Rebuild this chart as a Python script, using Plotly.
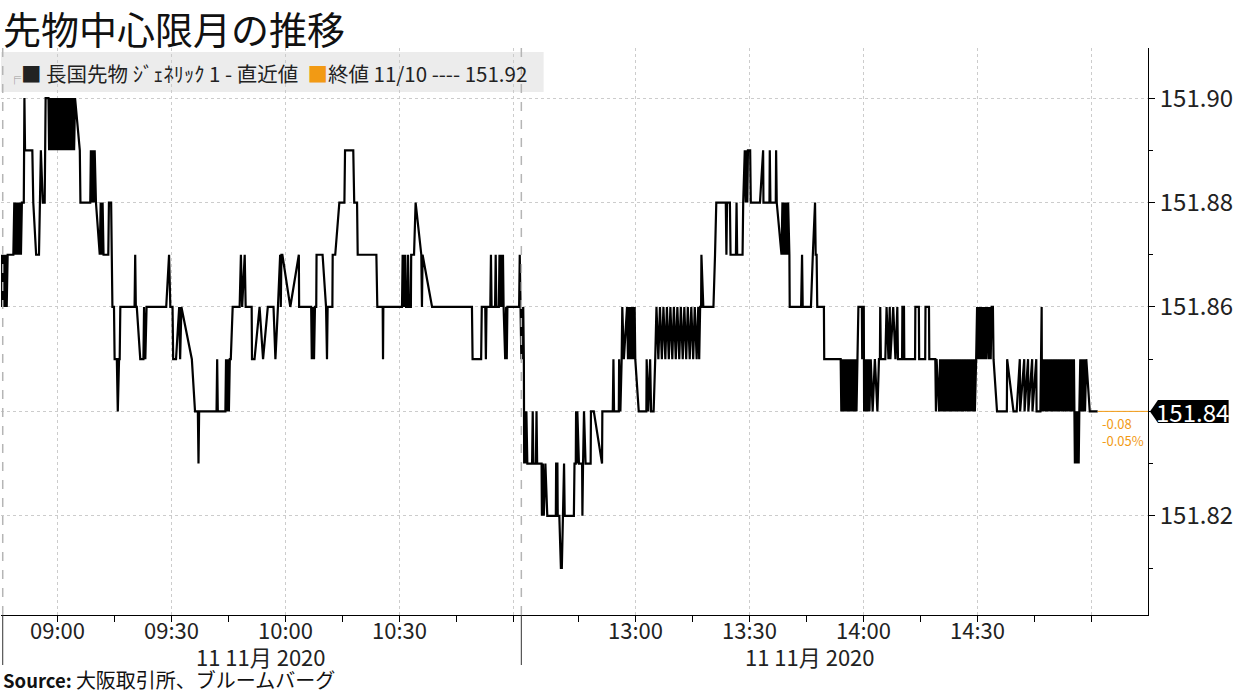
import plotly.graph_objects as go

DAY = "2020-11-11"

# (time, price) ticks - morning session
morning = [
    ("08:45:00", 151.86), ("08:45:15", 151.87), ("08:45:30", 151.86), ("08:45:45", 151.87),
    ("08:46:00", 151.86), ("08:46:15", 151.87), ("08:46:30", 151.86), ("08:46:45", 151.87),
    ("08:48:15", 151.87), ("08:48:30", 151.88), ("08:48:45", 151.87), ("08:49:00", 151.88),
    ("08:49:15", 151.87), ("08:49:30", 151.88), ("08:49:45", 151.87), ("08:50:00", 151.88),
    ("08:50:15", 151.87), ("08:50:30", 151.88), ("08:51:00", 151.88), ("08:51:10", 151.90),
    ("08:51:20", 151.89), ("08:53:15", 151.89), ("08:53:30", 151.88), ("08:54:15", 151.87),
    ("08:55:00", 151.87), ("08:55:15", 151.88), ("08:55:30", 151.89), ("08:56:00", 151.88),
    ("08:56:30", 151.88), ("08:56:45", 151.90), ("08:57:30", 151.90), ("08:57:40", 151.89),
    ("08:58:00", 151.90), ("08:58:15", 151.89), ("08:58:30", 151.90), ("08:58:45", 151.89),
    ("08:59:00", 151.90), ("08:59:15", 151.89), ("08:59:30", 151.90), ("08:59:45", 151.89),
    ("09:00:00", 151.90), ("09:00:15", 151.89), ("09:00:30", 151.90), ("09:00:45", 151.89),
    ("09:01:00", 151.90), ("09:01:15", 151.89), ("09:01:30", 151.90), ("09:01:45", 151.89),
    ("09:02:00", 151.90), ("09:02:15", 151.89), ("09:02:30", 151.90), ("09:02:45", 151.89),
    ("09:03:00", 151.90), ("09:03:15", 151.89), ("09:03:30", 151.90), ("09:03:45", 151.89),
    ("09:04:00", 151.90), ("09:04:15", 151.89), ("09:04:30", 151.90), ("09:05:45", 151.89),
    ("09:05:55", 151.88), ("09:08:30", 151.88), ("09:08:40", 151.89), ("09:08:55", 151.88),
    ("09:09:10", 151.89), ("09:09:25", 151.88), ("09:09:40", 151.89), ("09:10:00", 151.88),
    ("09:11:00", 151.87), ("09:11:15", 151.88), ("09:11:30", 151.87), ("09:11:45", 151.88),
    ("09:12:00", 151.87), ("09:13:15", 151.87), ("09:13:25", 151.88), ("09:14:00", 151.88),
    ("09:14:10", 151.87), ("09:14:20", 151.86), ("09:14:45", 151.86), ("09:14:55", 151.85),
    ("09:15:30", 151.85), ("09:15:45", 151.84), ("09:16:05", 151.85), ("09:16:15", 151.85),
    ("09:16:25", 151.86), ("09:20:10", 151.86), ("09:20:20", 151.87), ("09:20:30", 151.86),
    ("09:20:45", 151.86), ("09:21:40", 151.85), ("09:22:30", 151.85), ("09:22:40", 151.86),
    ("09:23:00", 151.85), ("09:23:20", 151.86), ("09:28:30", 151.86), ("09:29:15", 151.87),
    ("09:29:35", 151.86), ("09:30:10", 151.86), ("09:30:20", 151.85), ("09:31:05", 151.85),
    ("09:31:55", 151.86), ("09:32:10", 151.85), ("09:32:30", 151.86), ("09:35:15", 151.85),
    ("09:36:05", 151.84), ("09:36:50", 151.84), ("09:37:00", 151.83), ("09:37:10", 151.84),
    ("09:41:45", 151.84), ("09:41:55", 151.85), ("09:42:05", 151.84), ("09:44:05", 151.84),
    ("09:44:15", 151.85), ("09:44:30", 151.84), ("09:44:45", 151.85), ("09:45:00", 151.84),
    ("09:45:15", 151.85), ("09:45:30", 151.85), ("09:46:00", 151.86), ("09:47:50", 151.86),
    ("09:48:10", 151.87), ("09:48:30", 151.86), ("09:49:10", 151.87), ("09:49:25", 151.86),
    ("09:51:00", 151.86), ("09:51:05", 151.85), ("09:51:45", 151.85), ("09:53:05", 151.86),
    ("09:54:00", 151.85), ("09:55:15", 151.86), ("09:56:45", 151.86), ("09:57:15", 151.85),
    ("09:57:55", 151.86), ("09:58:30", 151.87), ("09:58:40", 151.86), ("09:58:50", 151.87),
    ("09:59:05", 151.87), ("10:01:10", 151.86), ("10:03:25", 151.87), ("10:03:30", 151.86),
    ("10:06:40", 151.86), ("10:06:50", 151.85), ("10:07:05", 151.86), ("10:07:25", 151.85),
    ("10:07:40", 151.86), ("10:08:00", 151.86), ("10:08:05", 151.87), ("10:09:40", 151.87),
    ("10:10:35", 151.86), ("10:10:50", 151.85), ("10:11:00", 151.86), ("10:12:15", 151.86),
    ("10:12:20", 151.87), ("10:13:00", 151.87), ("10:14:05", 151.88), ("10:15:25", 151.88),
    ("10:15:35", 151.89), ("10:17:45", 151.89), ("10:18:00", 151.88), ("10:18:45", 151.88),
    ("10:18:55", 151.87), ("10:23:50", 151.87), ("10:24:05", 151.86), ("10:25:30", 151.86),
    ("10:25:35", 151.85), ("10:25:40", 151.86), ("10:30:35", 151.86), ("10:30:45", 151.87),
    ("10:30:55", 151.86), ("10:31:05", 151.87), ("10:31:15", 151.86), ("10:31:25", 151.87),
    ("10:31:40", 151.86), ("10:32:05", 151.86), ("10:32:10", 151.87), ("10:32:25", 151.86),
    ("10:32:55", 151.86), ("10:33:00", 151.87), ("10:33:45", 151.87), ("10:34:10", 151.88),
    ("10:35:40", 151.87), ("10:35:50", 151.86), ("10:36:00", 151.87), ("10:38:30", 151.86),
    ("10:49:00", 151.86), ("10:49:10", 151.85), ("10:51:25", 151.85), ("10:51:35", 151.86),
    ("10:52:30", 151.86), ("10:52:40", 151.85), ("10:52:50", 151.86), ("10:53:50", 151.86),
    ("10:54:00", 151.87), ("10:54:10", 151.86), ("10:55:05", 151.86), ("10:55:15", 151.87),
    ("10:55:25", 151.86), ("10:56:05", 151.86), ("10:56:15", 151.87), ("10:56:25", 151.86),
    ("10:56:45", 151.87), ("10:56:55", 151.86), ("10:57:10", 151.87), ("10:57:20", 151.86),
    ("10:57:45", 151.85), ("10:58:00", 151.86), ("10:58:10", 151.85), ("10:58:20", 151.86),
    ("11:01:25", 151.86), ("11:01:35", 151.87),
]

# afternoon session
afternoon = [
    ("12:30:00", 151.85), ("12:30:10", 151.86), ("12:30:20", 151.85), ("12:30:30", 151.86),
    ("12:30:40", 151.85), ("12:30:45", 151.83), ("12:31:00", 151.84), ("12:31:10", 151.83),
    ("12:31:20", 151.84), ("12:31:35", 151.83), ("12:32:50", 151.83), ("12:33:00", 151.84),
    ("12:33:10", 151.83), ("12:33:50", 151.83), ("12:34:00", 151.84), ("12:34:10", 151.83),
    ("12:35:20", 151.83), ("12:35:25", 151.82), ("12:35:40", 151.83), ("12:35:55", 151.82),
    ("12:36:20", 151.83), ("12:36:50", 151.82), ("12:39:05", 151.82), ("12:39:10", 151.83),
    ("12:39:30", 151.83), ("12:39:35", 151.82), ("12:40:00", 151.82), ("12:40:25", 151.81),
    ("12:40:40", 151.81), ("12:40:55", 151.82), ("12:41:15", 151.83), ("12:41:25", 151.82),
    ("12:43:50", 151.82), ("12:44:00", 151.83), ("12:44:20", 151.83), ("12:44:25", 151.84),
    ("12:44:35", 151.83), ("12:44:45", 151.84), ("12:45:10", 151.83), ("12:46:00", 151.83),
    ("12:46:05", 151.82), ("12:46:15", 151.83), ("12:46:30", 151.84), ("12:46:55", 151.83),
    ("12:48:15", 151.83), ("12:48:20", 151.84), ("12:49:05", 151.84), ("12:51:15", 151.83),
    ("12:51:20", 151.84), ("12:54:05", 151.84), ("12:54:15", 151.85), ("12:54:25", 151.84),
    ("12:55:40", 151.84), ("12:55:45", 151.85), ("12:56:05", 151.84), ("12:56:25", 151.85),
    ("12:56:35", 151.86), ("12:57:00", 151.85), ("12:57:50", 151.86), ("12:58:05", 151.85),
    ("12:58:20", 151.86), ("12:58:35", 151.85), ("12:58:50", 151.86), ("12:59:05", 151.85),
    ("12:59:20", 151.86), ("12:59:35", 151.85), ("12:59:50", 151.86), ("13:00:00", 151.85),
    ("13:00:55", 151.84), ("13:02:55", 151.84), ("13:03:00", 151.85), ("13:03:25", 151.84),
    ("13:03:55", 151.85), ("13:04:10", 151.84), ("13:04:50", 151.84), ("13:05:15", 151.85),
    ("13:05:35", 151.86), ("13:06:05", 151.85), ("13:06:30", 151.86), ("13:07:00", 151.85),
    ("13:07:25", 151.86), ("13:07:55", 151.85), ("13:08:20", 151.86), ("13:08:50", 151.85),
    ("13:09:15", 151.86), ("13:09:45", 151.85), ("13:10:10", 151.86), ("13:10:40", 151.85),
    ("13:11:05", 151.86), ("13:11:35", 151.85), ("13:12:00", 151.86), ("13:12:30", 151.85),
    ("13:12:55", 151.86), ("13:13:25", 151.85), ("13:13:50", 151.86), ("13:14:20", 151.85),
    ("13:14:45", 151.86), ("13:15:15", 151.85), ("13:15:40", 151.86), ("13:16:10", 151.85),
    ("13:16:35", 151.86), ("13:16:50", 151.85), ("13:17:05", 151.86), ("13:17:20", 151.86),
    ("13:17:25", 151.87), ("13:17:55", 151.86),
    ("13:20:35", 151.86), ("13:21:00", 151.87), ("13:21:20", 151.88), ("13:23:50", 151.88),
    ("13:24:00", 151.87), ("13:24:10", 151.88), ("13:24:55", 151.88), ("13:25:05", 151.87),
    ("13:26:30", 151.87), ("13:26:40", 151.88), ("13:26:50", 151.87), ("13:28:15", 151.87),
    ("13:28:25", 151.88), ("13:28:50", 151.89), ("13:29:05", 151.88), ("13:29:15", 151.89),
    ("13:29:30", 151.88), ("13:29:40", 151.89), ("13:30:15", 151.89), ("13:30:25", 151.88),
    ("13:32:50", 151.88), ("13:33:40", 151.89), ("13:33:45", 151.88), ("13:35:20", 151.88),
    ("13:35:25", 151.89), ("13:35:35", 151.88), ("13:37:00", 151.88), ("13:37:05", 151.89),
    ("13:37:15", 151.88), ("13:38:30", 151.87), ("13:38:45", 151.88), ("13:39:00", 151.87),
    ("13:39:15", 151.88), ("13:39:30", 151.87), ("13:39:45", 151.88), ("13:40:00", 151.87),
    ("13:40:15", 151.88), ("13:40:35", 151.87), ("13:40:40", 151.86), ("13:43:40", 151.86),
    ("13:43:55", 151.87), ("13:44:05", 151.86), ("13:46:15", 151.86), ("13:46:45", 151.87),
    ("13:47:20", 151.88), ("13:47:30", 151.87), ("13:47:45", 151.87), ("13:47:55", 151.86),
    ("13:49:40", 151.86), ("13:49:45", 151.85), ("13:54:05", 151.85), ("13:54:15", 151.84),
    ("13:54:30", 151.85), ("13:54:45", 151.84), ("13:55:00", 151.85), ("13:55:15", 151.84),
    ("13:55:30", 151.85), ("13:55:45", 151.84), ("13:56:00", 151.85), ("13:56:15", 151.84),
    ("13:56:30", 151.85), ("13:56:45", 151.84), ("13:57:00", 151.85), ("13:57:15", 151.84),
    ("13:57:30", 151.85), ("13:57:45", 151.84), ("13:58:00", 151.85), ("13:58:15", 151.84),
    ("13:58:30", 151.85), ("13:58:45", 151.86), ("13:59:40", 151.86), ("13:59:45", 151.85),
    ("13:59:55", 151.86), ("14:00:10", 151.86), ("14:00:15", 151.84), ("14:00:25", 151.85),
    ("14:00:40", 151.84), ("14:00:55", 151.85), ("14:01:10", 151.84), ("14:01:25", 151.85),
    ("14:01:40", 151.84), ("14:02:00", 151.85), ("14:02:30", 151.84), ("14:03:05", 151.85),
    ("14:03:45", 151.84), ("14:04:10", 151.85), ("14:04:25", 151.85), ("14:04:30", 151.86),
    ("14:04:40", 151.85), ("14:05:50", 151.85), ("14:06:10", 151.86), ("14:06:40", 151.85),
    ("14:07:00", 151.86), ("14:07:10", 151.85), ("14:07:55", 151.86), ("14:08:30", 151.85),
    ("14:09:00", 151.86), ("14:09:10", 151.85), ("14:10:15", 151.85), ("14:10:20", 151.86),
    ("14:10:45", 151.86), ("14:10:50", 151.85), ("14:13:40", 151.85), ("14:13:45", 151.86),
    ("14:14:40", 151.86), ("14:14:45", 151.85), ("14:16:20", 151.85), ("14:16:25", 151.86),
    ("14:17:20", 151.86), ("14:17:25", 151.85), ("14:19:00", 151.85), ("14:19:10", 151.84),
    ("14:19:20", 151.85), ("14:20:00", 151.84), ("14:20:15", 151.85), ("14:20:30", 151.84),
    ("14:20:45", 151.85), ("14:21:00", 151.84), ("14:21:15", 151.85), ("14:21:30", 151.84),
    ("14:21:50", 151.85), ("14:22:05", 151.84), ("14:22:20", 151.85), ("14:22:35", 151.84),
    ("14:22:50", 151.85), ("14:23:10", 151.84), ("14:23:25", 151.85), ("14:23:45", 151.84),
    ("14:24:00", 151.85), ("14:24:15", 151.84), ("14:24:35", 151.85), ("14:24:50", 151.84),
    ("14:25:05", 151.85), ("14:25:25", 151.84), ("14:25:40", 151.85), ("14:26:00", 151.84),
    ("14:26:15", 151.85), ("14:26:30", 151.84), ("14:26:50", 151.85), ("14:27:05", 151.84),
    ("14:27:25", 151.85), ("14:27:40", 151.84), ("14:28:00", 151.85), ("14:28:15", 151.84),
    ("14:28:35", 151.85), ("14:28:50", 151.84), ("14:29:10", 151.85), ("14:29:25", 151.84),
    ("14:29:45", 151.85), ("14:30:00", 151.86), ("14:30:15", 151.85), ("14:30:30", 151.86),
    ("14:30:45", 151.85), ("14:31:00", 151.86), ("14:31:15", 151.85), ("14:31:30", 151.86),
    ("14:31:50", 151.85), ("14:32:05", 151.86), ("14:32:20", 151.85), ("14:32:40", 151.86),
    ("14:33:00", 151.85), ("14:33:15", 151.86), ("14:33:35", 151.85), ("14:33:50", 151.86),
    ("14:34:10", 151.86), ("14:34:20", 151.85), ("14:35:15", 151.84), ("14:37:50", 151.84),
    ("14:37:55", 151.85), ("14:39:35", 151.84), ("14:40:25", 151.84), ("14:41:15", 151.85),
    ("14:41:20", 151.84), ("14:42:25", 151.85), ("14:42:30", 151.84), ("14:43:25", 151.85),
    ("14:43:30", 151.84), ("14:44:30", 151.85), ("14:44:35", 151.84), ("14:45:35", 151.85),
    ("14:45:40", 151.84), ("14:46:40", 151.84), ("14:47:00", 151.86), ("14:47:05", 151.84),
    ("14:47:20", 151.85), ("14:47:35", 151.84), ("14:47:55", 151.85), ("14:48:10", 151.84),
    ("14:48:30", 151.85), ("14:48:45", 151.84), ("14:49:05", 151.85), ("14:49:20", 151.84),
    ("14:49:40", 151.85), ("14:49:55", 151.84), ("14:50:15", 151.85), ("14:50:30", 151.84),
    ("14:50:50", 151.85), ("14:51:05", 151.84), ("14:51:25", 151.85), ("14:51:40", 151.84),
    ("14:52:00", 151.85), ("14:52:15", 151.84), ("14:52:35", 151.85), ("14:52:50", 151.84),
    ("14:53:10", 151.85), ("14:53:25", 151.84), ("14:53:45", 151.85), ("14:54:00", 151.84),
    ("14:54:20", 151.85), ("14:54:35", 151.84), ("14:54:55", 151.85), ("14:55:10", 151.84),
    ("14:55:30", 151.85), ("14:55:40", 151.84), ("14:55:45", 151.83), ("14:55:55", 151.84),
    ("14:56:05", 151.83), ("14:56:15", 151.84), ("14:56:25", 151.83), ("14:56:35", 151.84),
    ("14:56:45", 151.83), ("14:56:55", 151.84), ("14:57:10", 151.85), ("14:57:25", 151.84),
    ("14:57:40", 151.85), ("14:57:55", 151.84), ("14:58:10", 151.85), ("14:58:25", 151.84),
    ("14:58:45", 151.85), ("14:59:40", 151.84), ("15:01:45", 151.84),
]

prev_close = 151.92
prev_date = "11/10"
series_name = "長国先物 ｼﾞｪﾈﾘｯｸ 1 - 直近値"
title_text = "先物中心限月の推移"
source_text = "大阪取引所、ブルームバーグ"
date_label = "11 11月 2020"

y_ticks = [151.82, 151.84, 151.86, 151.88, 151.90]
y_minor = [151.81, 151.83, 151.85, 151.87, 151.89]
x_major = ["09:00", "09:30", "10:00", "10:30", "11:00", "13:00", "13:30", "14:00", "14:30", "15:00"]
x_labels = ["09:00", "09:30", "10:00", "10:30", "", "13:00", "13:30", "14:00", "14:30", ""]
x_minor = ["09:15", "09:45", "10:15", "10:45", "12:45", "13:15", "13:45", "14:15", "14:45"]
x_range = ["08:45", "15:15"]
lunch_break = ["11:02", "12:30"]
session_mid = ["09:53:30", "13:46:00"]
y_range = [151.801, 151.9096]

ORANGE = "#f29a14"
FONT = "Noto Sans CJK JP"
W, H = 1234, 694
ML, MR, MT, MB = 1, 81, 48, 79
PW, PH = W - ML - MR, H - MT - MB


def d(t):
    return f"{DAY} {t}"


ticks = morning + afternoon
xs = [d(t) for t, _ in ticks]
ys = [p for _, p in ticks]
last = ys[-1]

fig = go.Figure()
fig.add_trace(go.Scatter(x=xs, y=ys, mode="lines",
                         line=dict(color="black", width=2.2), hoverinfo="x+y",
                         showlegend=False))
fig.add_trace(go.Scatter(x=[xs[-1], d(x_range[1])], y=[last, last], mode="lines",
                         line=dict(color=ORANGE, width=1), hoverinfo="skip",
                         showlegend=False, cliponaxis=False))


def mins(t):
    h, m = t.split(":")[:2]
    return int(h) * 60 + int(m)


am_len = mins(lunch_break[0]) - mins(x_range[0])
pm_len = mins(x_range[1]) - mins(lunch_break[1])
brk_frac = am_len / (am_len + pm_len)


def ypaper(v):
    return (v - y_range[0]) / (y_range[1] - y_range[0])


shapes = [
    dict(type="rect", xref="paper", yref="paper", x0=0, x1=545 / PW,
         y0=1 - 44 / PH, y1=1 - 4 / PH, fillcolor="#ececec", line=dict(width=0), layer="below"),
    dict(type="line", xref="x", yref="paper", x0=d(lunch_break[1]), x1=d(lunch_break[1]),
         y0=0, y1=1, line=dict(color="#b5b5b5", width=1.5, dash="dash")),
    dict(type="line", xref="paper", yref="paper", x0=0.0015, x1=0.0015,
         y0=0, y1=1, line=dict(color="#b5b5b5", width=1.5, dash="dash")),
    dict(type="line", xref="paper", yref="paper", x0=brk_frac, x1=brk_frac,
         y0=0, y1=-50 / PH, line=dict(color="#333333", width=1)),
    dict(type="line", xref="paper", yref="paper", x0=0.0015, x1=0.0015,
         y0=0, y1=-50 / PH, line=dict(color="#333333", width=1)),
]
yl = ypaper(last)
hh = 11.5 / PH
xt, xb, xe = 1 + 2 / PW, 1 + 10 / PW, 1 + MR / PW
shapes.append(dict(type="path", xref="paper", yref="paper",
                   path=f"M {xt},{yl} L {xb},{yl + hh} L {xe},{yl + hh} L {xe},{yl - hh} L {xb},{yl - hh} Z",
                   fillcolor="black", line=dict(width=0)))

chg = last - prev_close
pct = chg / prev_close * 100

annotations = [
    dict(text=title_text, xref="paper", yref="paper", x=0, y=1, xanchor="left",
         yanchor="middle", yshift=21, xshift=1, showarrow=False, borderpad=0,
         font=dict(family=FONT, size=38, color="#111111")),
    dict(text=(f'<span style="color:#999999;font-size:13px">╒</span>■ {series_name}  '
               f'<span style="color:{ORANGE}">■</span>終値 {prev_date} ---- {prev_close:.2f}'),
         xref="paper", yref="paper", x=0, y=1, xanchor="left", yanchor="middle",
         yshift=-25, xshift=5, showarrow=False,
         font=dict(family=FONT, size=20.5, color="#222222")),
    dict(text=f'<b>Source:</b> <span style="font-size:20px">{source_text}</span>',
         xref="paper", yref="paper", x=0, y=0,
         xanchor="left", yanchor="middle", yshift=-64, xshift=1, showarrow=False, borderpad=0,
         font=dict(family=FONT, size=18.5, color="#111111")),
    dict(text=f"{last:.2f}", xref="paper", yref="paper", x=1 + 45 / PW, y=yl,
         xanchor="center", yanchor="middle", showarrow=False,
         font=dict(family=FONT, size=24, color="white")),
    dict(text=f"{chg:.2f}<br>{pct:.2f}%", xref="x", yref="y", x=xs[-1], y=last,
         xanchor="left", yanchor="top", xshift=2, yshift=-1, showarrow=False, align="left",
         font=dict(family=FONT, size=13, color=ORANGE)),
]
# time tick labels
for t, lab in zip(x_major, x_labels):
    if lab:
        annotations.append(dict(text=lab, xref="x", yref="paper", x=d(t), y=0,
                                xanchor="center", yanchor="middle", yshift=-14, showarrow=False,
                                borderpad=0, font=dict(family=FONT, size=22, color="#222222")))
for m in session_mid:
    annotations.append(dict(text=date_label, xref="x", yref="paper", x=d(m), y=0,
                            xanchor="center", yanchor="middle", yshift=-41, showarrow=False,
                            borderpad=0, font=dict(family=FONT, size=22, color="#222222")))

fig.update_layout(
    width=W, height=H, autosize=False,
    margin=dict(l=ML, r=MR, t=MT, b=MB, pad=0),
    paper_bgcolor="white", plot_bgcolor="white",
    font=dict(family=FONT, color="#222222"),
    shapes=shapes, annotations=annotations, showlegend=False,
    xaxis=dict(
        type="date", range=[d(x_range[0]), d(x_range[1])],
        rangebreaks=[dict(bounds=[d(lunch_break[0]), d(lunch_break[1])])],
        tickmode="array", tickvals=[d(t) for t in x_major], ticktext=x_labels,
        showticklabels=False,
        ticks="outside", ticklen=6, tickcolor="black", tickwidth=1,
        showgrid=True, gridcolor="#cccccc", griddash="dot", gridwidth=1,
        showline=True, linecolor="black", linewidth=1,
        minor=dict(tickmode="array", tickvals=[d(t) for t in x_minor], ticks="outside",
                   ticklen=6, tickcolor="black", showgrid=False),
        zeroline=False, fixedrange=True,
    ),
    yaxis=dict(
        side="right", range=y_range,
        tickmode="array", tickvals=y_ticks,
        ticktext=["" if abs(v - last) < 1e-9 else f"{v:.2f}" for v in y_ticks],
        ticks="outside", ticklen=6, tickcolor="black",
        showgrid=True, gridcolor="#cccccc", griddash="dot", gridwidth=1,
        showline=True, linecolor="black", linewidth=1,
        tickfont=dict(family=FONT, size=24, color="#222222"),
        minor=dict(tickmode="array", tickvals=y_minor, ticks="outside", ticklen=4,
                   tickcolor="black", showgrid=False),
        zeroline=False, fixedrange=True,
    ),
)

fig.write_html("out.html", config={"displayModeBar": False},
               post_script="document.body.style.margin='0px';")
